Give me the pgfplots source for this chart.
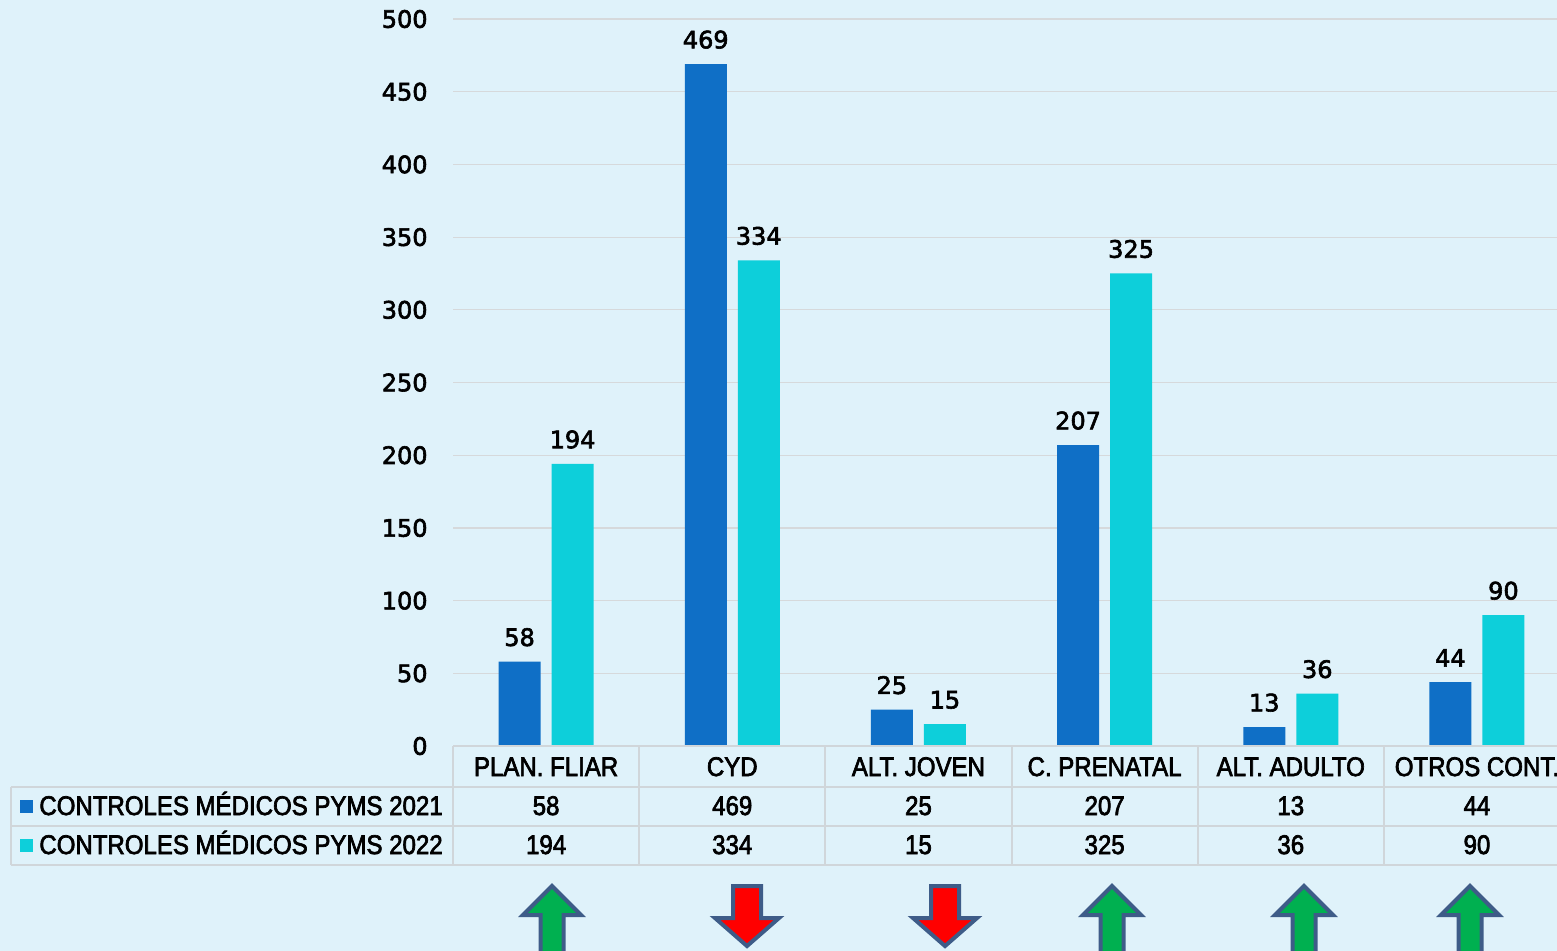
\documentclass[border=0pt]{standalone}
\usepackage{pgfplots}
\pgfplotsset{compat=1.18}
\usepackage{pgfplotstable}
\usepackage{fontspec}
\setmainfont{Liberation Sans}
\newfontfamily\numfont[FakeBold=2.5]{DejaVu Sans}
\newfontfamily\tabfont[FakeStretch=0.89,FakeBold=2.5]{Liberation Sans}
\definecolor{bg}{HTML}{DFF2FA}
\definecolor{c21}{HTML}{0F6FC6}
\definecolor{c22}{HTML}{0DCFDA}
\definecolor{gridc}{HTML}{D6D9DB}
\definecolor{tabline}{HTML}{D0D6DA}
\definecolor{arrline}{HTML}{3E5C88}
\definecolor{arrup}{HTML}{00B050}
\definecolor{arrdn}{HTML}{FF0000}

\pgfplotstableread{
x a b
0 58 194
1 469 334
2 25 15
3 207 325
4 13 36
5 44 90
}\data

\begin{document}
\begin{tikzpicture}
\begin{scope}[x=0.5pt,y=-0.5pt]
\fill[bg] (0,0) rectangle (1600,1000);
\end{scope}
\begin{axis}[
  at={(226.5pt,-373pt)}, anchor=south west,
  scale only axis, width=558.5pt, height=363.5pt,
  xmin=-0.5, xmax=5.5, ymin=0, ymax=500,
  ybar=5.5pt, bar width=21pt,
  axis line style={draw=none},
  ytick={0,50,...,500},
  ymajorgrids, grid style={gridc, line width=0.6pt},
  major tick length=0pt,
  xtick={0,...,5},
  xticklabels={PLAN. FLIAR, CYD, ALT. JOVEN, C. PRENATAL, ALT. ADULTO, OTROS CONT.},
  xticklabel style={font=\tabfont\fontsize{13.5}{15}\selectfont, anchor=base, inner sep=0pt, yshift=-15pt},
  yticklabel style={font=\numfont\fontsize{12}{14}\selectfont, anchor=east, inner sep=0pt, xshift=-12.5pt},
  /pgf/number format/assume math mode=true,
  nodes near coords,
  nodes near coords style={font=\numfont\fontsize{12}{14}\selectfont, anchor=south, inner sep=0pt, yshift=7.5pt, black},
  clip=false,
]
\addplot[fill=c21, draw=none] table[x=x,y=a]{\data};
\addplot[fill=c22, draw=none] table[x=x,y=b]{\data};
\end{axis}
\begin{scope}[x=0.5pt,y=-0.5pt]
  \draw[tabline, line width=1pt] (453,746) -- (1580,746);
  \foreach \yy in {787,826,865} {\draw[tabline, line width=1pt] (11,\yy) -- (1580,\yy);}
  \draw[tabline, line width=1pt] (11,787) -- (11,865);
  \foreach \i in {0,...,6} {\draw[tabline, line width=1pt] ({453+186.17*\i},746) -- ({453+186.17*\i},865);}
  \fill[c21] (20,800) rectangle (33,813);
  \fill[c22] (20,839) rectangle (33,852);
  \node[anchor=base west, inner sep=0pt] at (39,815) {\tabfont\fontsize{13.5}{15}\selectfont CONTROLES MÉDICOS PYMS 2021};
  \node[anchor=base west, inner sep=0pt] at (39,854) {\tabfont\fontsize{13.5}{15}\selectfont CONTROLES MÉDICOS PYMS 2022};
  \foreach \i in {0,...,5} {
    \pgfplotstablegetelem{\i}{a}\of\data
    \node[anchor=base, inner sep=0pt] at ({546.1+186.17*\i},815) {\tabfont\fontsize{13.5}{15}\selectfont\pgfplotsretval};
    \pgfplotstablegetelem{\i}{b}\of\data
    \node[anchor=base, inner sep=0pt] at ({546.1+186.17*\i},854) {\tabfont\fontsize{13.5}{15}\selectfont\pgfplotsretval};
  }
  % trend arrows
  \foreach \cx in {552,1112,1304,1470} {
    \draw[arrline, line width=2pt, fill=arrup, line join=miter]
      (\cx,886) -- ({\cx+29},915) -- ({\cx+11.5},915) -- ({\cx+11.5},980) -- ({\cx-11.5},980) -- ({\cx-11.5},915) -- ({\cx-29},915) -- cycle;
  }
  \foreach \cx in {747,945} {
    \draw[arrline, line width=2pt, fill=arrdn, line join=miter]
      ({\cx-14},886) -- ({\cx+14},886) -- ({\cx+14},918) -- ({\cx+32},918) -- (\cx,946) -- ({\cx-32},918) -- ({\cx-14},918) -- cycle;
  }
  \pgfresetboundingbox
  \path[use as bounding box] (0,0) rectangle (1557,950);
\end{scope}
\end{tikzpicture}
\end{document}
